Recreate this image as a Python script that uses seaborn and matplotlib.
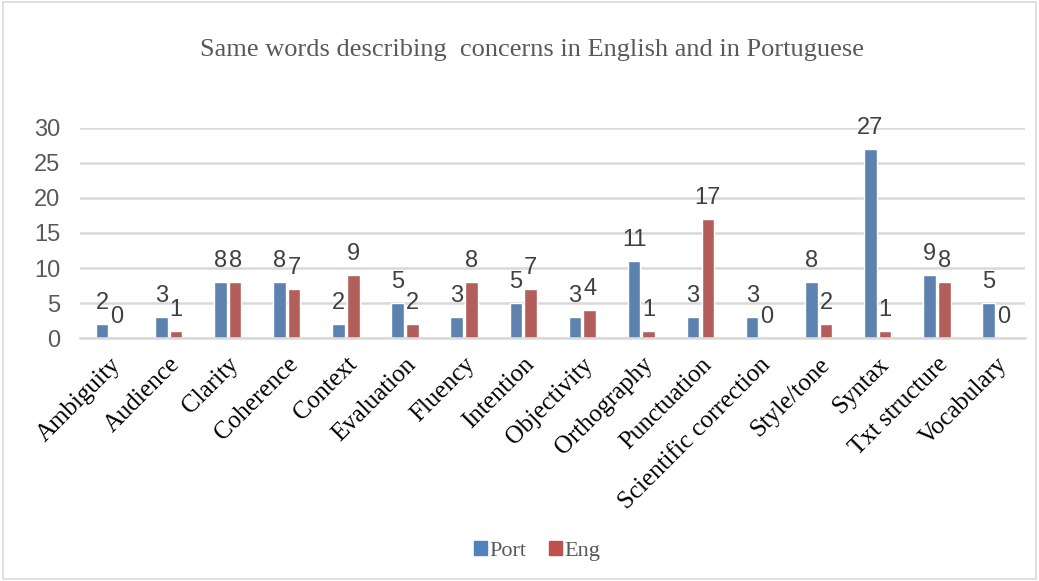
import matplotlib
matplotlib.use("Agg")
import matplotlib.pyplot as plt
import seaborn as sns
import pandas as pd
from matplotlib.patches import Rectangle

categories = ['Ambiguity', 'Audience', 'Clarity', 'Coherence', 'Context', 'Evaluation',
              'Fluency', 'Intention', 'Objectivity', 'Orthography', 'Punctuation',
              'Scientific correction', 'Style/tone', 'Syntax', 'Txt structure', 'Vocabulary']
port = [2, 3, 8, 8, 2, 5, 3, 5, 3, 11, 3, 3, 8, 27, 9, 5]
eng = [0, 1, 8, 7, 9, 2, 8, 7, 4, 1, 17, 0, 2, 1, 8, 0]
series = ['Port', 'Eng']
colors = ['#4F81BD', '#C0504D']

df = pd.DataFrame({
    'word': categories * 2,
    'count': port + eng,
    'lang': ['Port'] * len(port) + ['Eng'] * len(eng),
})

sns.set_style('white')
fig = plt.figure(figsize=(10.39, 5.81), dpi=100)
ax = fig.add_axes([0.077, 0.418, 0.91, 0.362])

sns.barplot(data=df, x='word', y='count', hue='lang', hue_order=series,
            palette=colors, width=0.5, gap=0.15, ax=ax, legend=False)

ax.set_ylim(0, 30)
ax.set_xlim(-0.5, len(categories) - 0.5)
ax.set_yticks(range(0, 31, 5))
ax.yaxis.grid(True, color='#D9D9D9', linewidth=1.8)
ax.set_axisbelow(True)
for s in ['top', 'right', 'left']:
    ax.spines[s].set_visible(False)
ax.spines['bottom'].set_color('#D9D9D9')
ax.spines['bottom'].set_linewidth(1.8)
ax.set_xlabel('')
ax.set_ylabel('')
ax.tick_params(axis='both', length=0)
ax.tick_params(axis='y', labelsize=17, labelcolor='#595959', pad=14)
for t in ax.get_yticklabels():
    t.set_family('Liberation Sans')
ax.set_xticks(range(len(categories)))
ax.set_xticklabels(categories, rotation=45, ha='right', rotation_mode='anchor',
                   family='Liberation Serif', fontsize=18, color='#000000')
ax.tick_params(axis='x', pad=11)

for cont in ax.containers:
    ax.bar_label(cont, fmt='%d', padding=7, fontsize=17, color='#404040',
                 family='Liberation Sans', clip_on=False)

fig.text(0.512, 0.914, 'Same words describing  concerns in English and in Portuguese',
         ha='center', va='center', family='Liberation Serif', fontsize=19, color='#595959')

handles = [Rectangle((0, 0), 1, 1, color=c) for c in colors]
fig.legend(handles, series, loc='center', bbox_to_anchor=(0.517, 0.052), ncol=2,
           frameon=False, handlelength=0.6, handleheight=0.6, handletextpad=0.1,
           columnspacing=1.0, prop={'family': 'Liberation Serif', 'size': 16},
           labelcolor='#595959')

fig.patches.append(Rectangle((0.003, 0.003), 0.994, 0.994, transform=fig.transFigure,
                             fill=False, edgecolor='#D9D9D9', linewidth=1.2))

fig.savefig('out.png', dpi=100)
